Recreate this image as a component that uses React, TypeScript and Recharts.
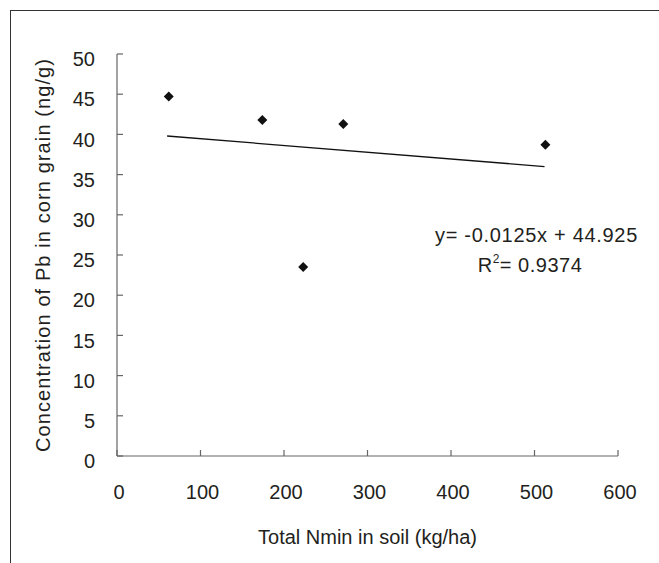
import { ScatterChart, Scatter, XAxis, YAxis } from 'recharts';

// total Nmin in soil (kg/ha) and Pb in corn grain (ng/g)
const nmin = [62, 174, 223, 271, 513];
const pb = [44.7, 41.8, 23.5, 41.3, 38.7];

// trend line as drawn in the figure
const trendX = [60, 512];
const trendY = [39.8, 36.0];

const xTicks = [0, 100, 200, 300, 400, 500, 600];
const yTicks = [0, 5, 10, 15, 20, 25, 30, 35, 40, 45, 50];

const equation = 'y= -0.0125x + 44.925';
const rSquared = '0.9374';

const points = nmin.map((x, i) => ({ x, y: pb[i] }));
const trend = trendX.map((x, i) => ({ x, y: trendY[i] }));

const font = '"Liberation Sans", Arial, Helvetica, sans-serif';
const textColor = '#231f20';
const axisColor = '#666';

function Diamond(props: any) {
  const { cx, cy } = props;
  const s = 5;
  return (
    <path
      d={`M${cx},${cy - s}L${cx + s},${cy}L${cx},${cy + s}L${cx - s},${cy}Z`}
      fill='#111'
    />
  );
}

export default function App() {
  return (
    <div style={{ position: 'relative', width: 659, height: 563, overflow: 'hidden', fontFamily: font }}>
      <style>{'body{margin:0}'}</style>
      <div
        style={{
          position: 'absolute',
          left: 10,
          top: 10,
          width: 800,
          height: 800,
          borderLeft: '1.5px solid #333',
          borderTop: '1.5px solid #333',
        }}
      />
      <ScatterChart
        width={659}
        height={563}
        margin={{ top: 54, right: 41, bottom: 0, left: 0 }}
        style={{ position: 'absolute', left: 0, top: 0 }}
      >
        <XAxis
          type='number'
          dataKey='x'
          domain={[0, 600]}
          ticks={xTicks}
          height={107}
          tickSize={-6}
          tickMargin={35}
          axisLine={{ stroke: axisColor, strokeWidth: 1.2 }}
          tickLine={{ stroke: axisColor, strokeWidth: 1.2 }}
          tick={{ fill: textColor, fontSize: 20, fontFamily: font, dx: 2 }}
          label={{
            value: 'Total Nmin in soil (kg/ha)',
            position: 'insideBottom',
            offset: 19,
            fill: textColor,
            fontSize: 20,
            fontFamily: font,
          }}
        />
        <YAxis
          type='number'
          dataKey='y'
          domain={[0, 50]}
          ticks={yTicks}
          width={117}
          tickSize={-6}
          tickMargin={28}
          axisLine={{ stroke: axisColor, strokeWidth: 1.2 }}
          tickLine={{ stroke: axisColor, strokeWidth: 1.2 }}
          tick={{ fill: textColor, fontSize: 20, fontFamily: font, dy: 5 }}
          label={{
            value: 'Concentration of Pb in corn grain (ng/g)',
            angle: -90,
            position: 'insideLeft',
            offset: 43,
            fill: textColor,
            fontSize: 20,
            fontFamily: font,
            style: { textAnchor: 'middle', letterSpacing: '1.1px' },
          }}
        />
        <Scatter
          data={trend}
          line={{ stroke: '#111', strokeWidth: 1.3 }}
          shape={() => <g />}
          isAnimationActive={false}
        />
        <Scatter data={points} shape={Diamond} isAnimationActive={false} />
      </ScatterChart>
      <svg
        width={659}
        height={563}
        style={{ position: 'absolute', left: 0, top: 0, pointerEvents: 'none' }}
      >
        <text
          x={536.5}
          y={241.5}
          textAnchor='middle'
          fontSize={20}
          fontFamily={font}
          fill={textColor}
          letterSpacing='0.7px'
        >
          {equation}
        </text>
        <text
          x={530}
          y={272}
          textAnchor='middle'
          fontSize={20}
          fontFamily={font}
          fill={textColor}
          letterSpacing='0.5px'
        >
          R
          <tspan fontSize={12} dy={-9}>
            2
          </tspan>
          <tspan dy={9}>= {rSquared}</tspan>
        </text>
      </svg>
    </div>
  );
}
